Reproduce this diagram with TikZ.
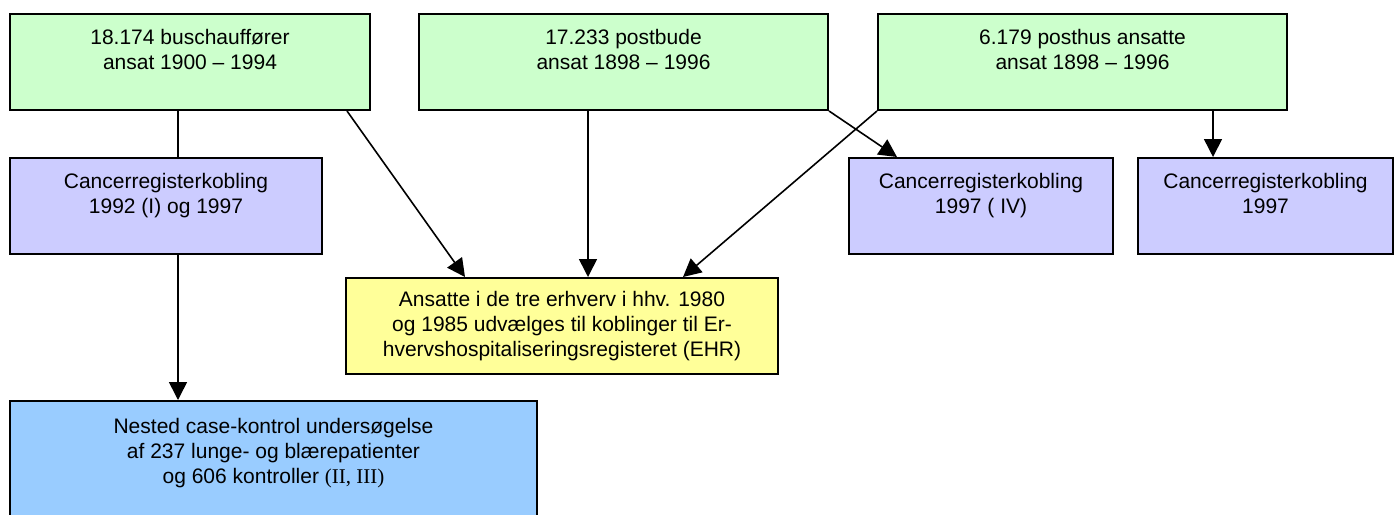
\documentclass[tikz,border=0pt]{standalone}
\usepackage{fontspec}
\setmainfont{Liberation Sans}
\newfontfamily\timesfont{Liberation Serif}
\usepackage{tikz}
\usetikzlibrary{arrows.meta, positioning, calc}

\definecolor{grnfill}{HTML}{CCFFCC}
\definecolor{kobfill}{HTML}{CCCCFF}
\definecolor{ehrfill}{HTML}{FFFF99}
\definecolor{casefill}{HTML}{99CCFF}

\begin{document}
\begin{tikzpicture}[
  x=0.5pt, y=-0.5pt,
  box/.style  = {rectangle, draw, line width=1pt, align=center, inner sep=1pt,
                 minimum height=48pt, font=\fontsize{10.5}{12.5}\selectfont},
  grp/.style  = {box, fill=grnfill, minimum width=204.5pt},
  kob/.style  = {box, fill=kobfill},
  lnk/.style  = {line width=0.8pt},
  arr/.style  = {-{Triangle[length=9pt, width=9pt]}, line width=0.8pt}
]
  \clip (0,0) rectangle (1395,514);

  % top row: the three groups of employees
  \node[grp, minimum width=180pt] at (190,62) (bus)
        {18.174 buschauffører\\ansat 1900 – 1994\\\mbox{}};
  \node[grp, right=23.5pt of bus] (post)
        {17.233 postbude\\ansat 1898 – 1996\\\mbox{}};
  \node[grp, right=24pt of post] (posthus)
        {6.179 posthus ansatte\\ansat 1898 – 1996\\\mbox{}};

  % register linkages
  \node[kob, minimum width=156pt] at (166,206) (kobA)
        {Cancerregisterkobling\\1992 (I) og 1997\\\mbox{}};
  \node[kob, minimum width=132pt] at (981,206) (kobB)
        {Cancerregisterkobling\\1997 ( IV)\\\mbox{}};
  \node[kob, minimum width=127.5pt] at (1265.5,206) (kobC)
        {Cancerregisterkobling\\1997\\\mbox{}};

  \node[box, fill=ehrfill, minimum width=216pt] at (562,326) (ehr)
        {Ansatte i de tre erhverv i hhv. 1980\\og 1985 udvælges til koblinger til Er-\\hvervshospitaliseringsregisteret (EHR)};
  \node[box, fill=casefill, minimum width=263.5pt, minimum height=75pt] at (273.5,476) (nested)
        {Nested case-kontrol undersøgelse\\af 237 lunge- og blærepatienter\\og 606 kontroller {\timesfont (II, III)}\\\mbox{}\\\mbox{}};

  \draw[lnk] ([xshift=-6pt]bus.south) -- ([xshift=-6pt]bus.south |- kobA.north);
  \draw[arr] ([xshift=6pt]kobA.south) -- ([xshift=6pt]kobA.south |- nested.north);
  \draw[arr] ([xshift=-12pt]bus.south east) -- ([xshift=-48.5pt]ehr.north);
  \draw[arr] ([xshift=-17.75pt]post.south) -- ([xshift=-17.75pt]post.south |- ehr.north);
  \draw[arr] (post.south east) -- ([xshift=-42pt]kobB.north);
  \draw[arr] (posthus.south west) -- ([xshift=60.5pt]ehr.north);
  \draw[arr] ([xshift=65.25pt]posthus.south) -- ([xshift=65.25pt]posthus.south |- kobC.north);
\end{tikzpicture}
\end{document}
